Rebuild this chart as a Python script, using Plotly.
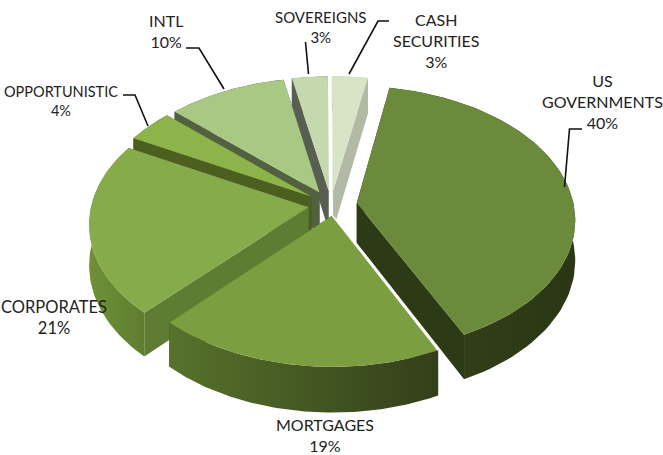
import numpy as np
import plotly.graph_objects as go

categories = ["US<br>GOVERNMENTS", "MORTGAGES", "CORPORATES", "OPPORTUNISTIC", "INTL", "SOVEREIGNS", "CASH<br>SECURITIES"]
values = [40, 19, 21, 4, 10, 3, 3]
top_colors = ["#6B8A3B", "#7B9E41", "#86AB4B", "#8DB44A", "#A9C884", "#C5D9AE", "#D7E4C6"]
cut_colors = ["#2D3A16", "#3A4A1C", "#5F7D32", "#4C5E20", "#52613F", "#565F50", "#B2B9A4"]
wall_left = ["#35441B", "#56722B", "#6F9036", "#4C5E20", "#52613F", "#565F50", "#B2B9A4"]
wall_right = ["#2A3614", "#333F1A", "#5F7D30", "#4C5E20", "#52613F", "#565F50", "#B2B9A4"]
draw_order = [5, 6, 4, 3, 0, 2, 1]

label_x = [602, 325, 54, 61, 166, 320, 436]
label_y = [101, 435, 317.5, 100.5, 31, 26.5, 40]
label_size = [16, 16, 16.5, 14.5, 16, 15, 16]

leaders = [
    [(564.5, 187), (569.5, 129), (582, 129)],
    [(148, 126), (135, 95), (123, 95)],
    [(224, 89), (199, 48), (186, 48)],
    [(308.5, 74), (305.5, 42)],
    [(349, 74), (378, 21), (389, 21)],
]

start_angle = 10.5
explode = [0.12, 0.08, 0.11, 0.11, 0.11, 0.11, 0.11]
shift_x = [0, 4, 1, 0, 0, 0, 0]
cx, cy, R, ry, persp, H = 331.0, 205.0, 217.0, 131.0, 0.117, 40.0


def proj(X, Y, h=0.0):
    s = 1.0 / (1.0 + persp * Y)
    return cx + R * X * s, cy - ry * Y * s + H * h * s


total = sum(values)
fig = go.Figure()
spans = []
a = start_angle
for v in values:
    spans.append((a, a + 360.0 * v / total))
    a += 360.0 * v / total


def add_poly(xs, ys, color=None, grad=None):
    kw = dict(fillcolor=color) if grad is None else dict(fillgradient=grad)
    fig.add_trace(go.Scatter(x=list(xs), y=list(ys), mode="lines", fill="toself",
                             line=dict(width=0), hoverinfo="skip", showlegend=False, **kw))


for i in draw_order:
    a0, a1 = spans[i]
    m = np.radians((a0 + a1) / 2)
    ox = explode[i] * np.sin(m) + shift_x[i] / R
    oy = explode[i] * np.cos(m)
    th = np.radians(np.linspace(a0, a1, 80))
    X = ox + np.sin(th)
    Y = oy + np.cos(th)
    for ang in (a0, a1):
        t = np.radians(ang)
        qx = np.array([ox, ox + np.sin(t), ox + np.sin(t), ox])
        qy = np.array([oy, oy + np.cos(t), oy + np.cos(t), oy])
        qh = np.array([0, 0, 1, 1])
        sx, sy = proj(qx, qy, qh)
        add_poly(sx, sy, color=cut_colors[i])
    tx, ty = proj(X, Y, 0)
    bx, by = proj(X, Y, 1)
    grad = dict(type="horizontal",
                colorscale=[[0, wall_left[i]], [1, wall_right[i]]])
    add_poly(np.r_[tx, bx[::-1]], np.r_[ty, by[::-1]], grad=grad)
    ax, ay = proj(ox, oy, 0)
    add_poly(np.r_[ax, tx], np.r_[ay, ty], color=top_colors[i])
    if i == 1:
        fig.add_trace(go.Scatter(x=[ax, tx[0]], y=[ay, ty[0]], mode="lines",
                                 line=dict(color="white", width=1.5),
                                 hoverinfo="skip", showlegend=False))

for path in leaders:
    fig.add_trace(go.Scatter(x=[p[0] for p in path], y=[p[1] for p in path], mode="lines",
                             line=dict(color="#111111", width=1.6),
                             hoverinfo="skip", showlegend=False))

for c, v, x, y, fs in zip(categories, values, label_x, label_y, label_size):
    fig.add_annotation(x=x, y=y, xref="x", yref="y", text=f"{c}<br>{v}%", showarrow=False,
                       align="center", font=dict(family="Lato", size=fs, color="#222222"))

fig.update_xaxes(range=[0, 663], visible=False, fixedrange=True)
fig.update_yaxes(range=[455, 0], visible=False, fixedrange=True)
fig.update_layout(width=663, height=455, margin=dict(l=0, r=0, t=0, b=0),
                  paper_bgcolor="white", plot_bgcolor="white", showlegend=False)
fig.write_html("out.html", config=dict(displayModeBar=False),
               post_script="document.body.style.margin='0';document.documentElement.style.overflow='hidden';")
